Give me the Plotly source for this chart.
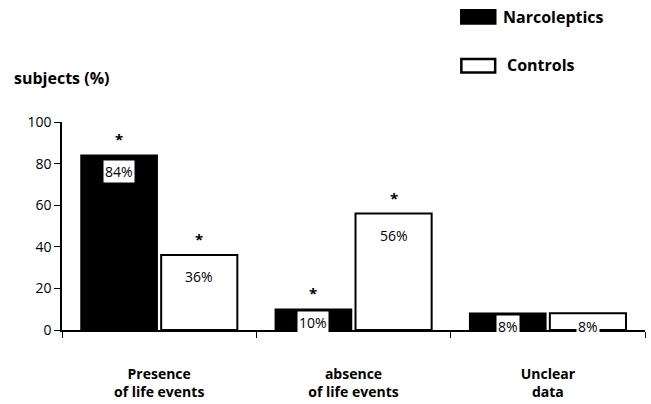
import plotly.graph_objects as go

categories = ["Presence<br>of life events", "absence<br>of life events", "Unclear<br>data"]
narcoleptics = [84, 10, 8]
controls = [36, 56, 8]
significant = [True, True, False]
y_ticks = [0, 20, 40, 60, 80, 100]
series_names = ["Narcoleptics", "Controls"]

FONT = "Open Sans"
fig = go.Figure()
fig.add_trace(go.Bar(x=categories, y=narcoleptics, name=series_names[0],
                     marker=dict(color="black", line=dict(color="black", width=1.5))))
fig.add_trace(go.Bar(x=categories, y=controls, name=series_names[1],
                     marker=dict(color="white", line=dict(color="black", width=2))))

off = 0.206
for i, (n, c) in enumerate(zip(narcoleptics, controls)):
    for k, (xv, v) in enumerate(((i - off, n), (i + off, c))):
        if v < 15:
            ys = -2
        elif k == 0:
            ys = -5
        else:
            ys = -10
        fig.add_annotation(x=xv, y=v, xref="x", yref="y", text=f"{v}%",
                           showarrow=False, yanchor="top", yshift=ys,
                           bgcolor="white", borderpad=1,
                           font=dict(family=FONT, size=14, color="black"))
        if significant[i]:
            fig.add_annotation(x=xv, y=v, xref="x", yref="y", text="<b>*</b>",
                               showarrow=False, yanchor="bottom", yshift=4,
                               font=dict(family=FONT, size=15, color="black"))

# legend drawn manually
fig.add_shape(type="rect", xref="paper", yref="paper", x0=0.684, x1=0.744, y0=1.540, y1=1.471,
              fillcolor="black", line=dict(color="black", width=1.5))
fig.add_shape(type="rect", xref="paper", yref="paper", x0=0.685, x1=0.743, y0=1.303, y1=1.238,
              fillcolor="white", line=dict(color="black", width=2.5))
fig.add_annotation(xref="paper", yref="paper", x=0.753, y=1.505, text="<b>" + series_names[0] + "</b>",
                   showarrow=False, xanchor="left", yanchor="middle",
                   font=dict(family=FONT, size=16, color="black"))
fig.add_annotation(xref="paper", yref="paper", x=0.760, y=1.272, text="<b>" + series_names[1] + "</b>",
                   showarrow=False, xanchor="left", yanchor="middle",
                   font=dict(family=FONT, size=16, color="black"))
fig.add_annotation(xref="paper", yref="paper", x=-0.085, y=1.212, text="<b>subjects (%)</b>",
                   showarrow=False, xanchor="left", yanchor="middle",
                   font=dict(family=FONT, size=16, color="black"))

fig.update_layout(
    width=651, height=404,
    margin=dict(l=62, r=6, t=122, b=74, autoexpand=False),
    paper_bgcolor="white", plot_bgcolor="white",
    showlegend=False,
    barmode="group", bargap=0.175, bargroupgap=0.05,
    font=dict(family=FONT, color="black"),
)
fig.update_xaxes(type="category", tickson="boundaries", ticks="outside", ticklen=6,
                 showline=True, linecolor="black", linewidth=1.5, tickcolor="black",
                 tickfont=dict(family=FONT, size=14, color="black", weight="bold"),
                 ticklabelstandoff=30, showgrid=False, range=[-0.5, 2.5])
fig.update_yaxes(range=[0, 100], tickvals=y_ticks, ticks="outside", ticklen=6,
                 showline=True, linecolor="black", linewidth=1.5, tickcolor="black",
                 tickfont=dict(family=FONT, size=14, color="black"),
                 showgrid=False, zeroline=False)

fig.write_html("out.html", config={"displayModeBar": False},
               post_script="document.body.style.margin='0';")
